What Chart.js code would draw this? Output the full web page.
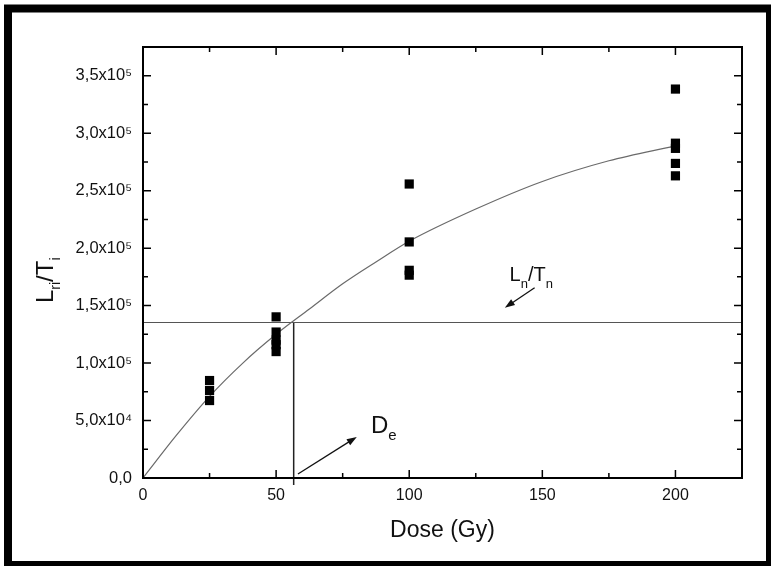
<!DOCTYPE html>
<html>
<head>
<meta charset="utf-8">
<script src="https://cdn.jsdelivr.net/npm/chart.js@4.4.1/dist/chart.umd.min.js"></script>
<style>
    html, body { margin: 0; padding: 0; background: #fff; }
</style>
</head>
<body>
<canvas id="myChart" width="771" height="566"></canvas>
<script>
// DATA

// measured Lri/Ti per regenerative dose (Gy)
var dose25 = [84800, 76100, 67400];
var dose50 = [140200, 127000, 120000, 116000, 110000];
var dose100 = [255800, 205400, 180700, 176500];
var dose200 = [338400, 291300, 286800, 273700, 262900];

// growth curve
var fitDoses = [0, 12.5, 25, 37.5, 50, 62.5, 75, 87.5, 100, 125, 150, 175, 200];
var fitValues = [0, 37000, 71000, 100000, 125000, 147000, 169000, 188000, 206000, 234000, 258000, 276000, 289000];

var naturalSignal = 135300; // Ln/Tn
var equivalentDose = 56.6;  // De

var xTickValues = [0, 50, 100, 150, 200];
var yTickValues = [0, 50000, 100000, 150000, 200000, 250000, 300000, 350000];
var yTickLabels = ['0,0', '5,0x10\u2074', '1,0x10\u2075', '1,5x10\u2075', '2,0x10\u2075', '2,5x10\u2075', '3,0x10\u2075', '3,5x10\u2075'];

function points(dose, values) {
    return values.map(function (v) { return { x: dose, y: v }; });
}

var measured = [].concat(points(25, dose25), points(50, dose50), points(100, dose100), points(200, dose200));
var fitCurve = fitDoses.map(function (d, i) { return { x: d, y: fitValues[i] }; });

var FONT = '"Liberation Sans", Arial, Helvetica, sans-serif';

// draws text pieces with subscripts, left aligned on baseline
function drawRich(ctx, x, y, parts) {
    ctx.textAlign = 'left';
    ctx.textBaseline = 'alphabetic';
    parts.forEach(function (p) {
        ctx.font = p.size + 'px ' + FONT;
        ctx.fillText(p.t, x, y + (p.dy || 0));
        x += ctx.measureText(p.t).width;
    });
}

function arrow(ctx, x1, y1, x2, y2) {
    var a = Math.atan2(y2 - y1, x2 - x1);
    ctx.beginPath();
    ctx.moveTo(x1, y1);
    ctx.lineTo(x2 - 6 * Math.cos(a), y2 - 6 * Math.sin(a));
    ctx.stroke();
    ctx.beginPath();
    ctx.moveTo(x2, y2);
    ctx.lineTo(x2 - 10 * Math.cos(a) + 3.5 * Math.sin(a), y2 - 10 * Math.sin(a) - 3.5 * Math.cos(a));
    ctx.lineTo(x2 - 10 * Math.cos(a) - 3.5 * Math.sin(a), y2 - 10 * Math.sin(a) + 3.5 * Math.cos(a));
    ctx.closePath();
    ctx.fill();
}

var decorations = {
    id: 'decorations',
    beforeDraw: function (chart) {
        var ctx = chart.ctx;
        ctx.save();
        ctx.fillStyle = '#fff';
        ctx.fillRect(0, 0, chart.width, chart.height);
        ctx.restore();
    },
    afterDraw: function (chart) {
        var ctx = chart.ctx;
        var area = chart.chartArea;
        var xs = chart.scales.x;
        var ys = chart.scales.y;
        ctx.save();

        // plot box
        ctx.strokeStyle = '#000';
        ctx.lineWidth = 2;
        ctx.strokeRect(area.left, area.top, area.right - area.left, area.bottom - area.top);

        // inward ticks on all four sides
        ctx.lineWidth = 1.5;
        ctx.beginPath();
        for (var d = 25; d < 225; d += 25) {
            var px = xs.getPixelForValue(d);
            var len = d % 50 === 0 ? 8 : 5;
            ctx.moveTo(px, area.bottom); ctx.lineTo(px, area.bottom - len);
            ctx.moveTo(px, area.top); ctx.lineTo(px, area.top + len);
        }
        for (var v = 25000; v < 375000; v += 25000) {
            var py = ys.getPixelForValue(v);
            var l2 = v % 50000 === 0 ? 8 : 5;
            ctx.moveTo(area.left, py); ctx.lineTo(area.left + l2, py);
            ctx.moveTo(area.right, py); ctx.lineTo(area.right - l2, py);
        }
        ctx.stroke();

        ctx.fillStyle = '#111';
        ctx.strokeStyle = '#111';
        ctx.lineWidth = 1.3;

        // Ln/Tn label and arrow
        drawRich(ctx, xs.getPixelForValue(137.7), ys.getPixelForValue(171600), [
            { t: 'L', size: 20 }, { t: 'n', size: 13, dy: 7 }, { t: '/T', size: 20 }, { t: 'n', size: 13, dy: 7 }
        ]);
        arrow(ctx, xs.getPixelForValue(147.1), ys.getPixelForValue(165500), xs.getPixelForValue(135.9), ys.getPixelForValue(148100));

        // De label and arrow
        drawRich(ctx, xs.getPixelForValue(85.6), ys.getPixelForValue(39200), [
            { t: 'D', size: 24 }, { t: 'e', size: 15, dy: 7 }
        ]);
        arrow(ctx, xs.getPixelForValue(58.2), ys.getPixelForValue(3500), xs.getPixelForValue(80.3), ys.getPixelForValue(35700));

        // y axis title
        ctx.save();
        ctx.translate(53, 303);
        ctx.rotate(-Math.PI / 2);
        drawRich(ctx, 0, 0, [
            { t: 'L', size: 24 }, { t: 'ri', size: 14, dy: 7 }, { t: '/T', size: 24 }, { t: 'i', size: 14, dy: 7 }
        ]);
        ctx.restore();

        // outer frame
        ctx.strokeStyle = '#000';
        ctx.lineWidth = 8;
        ctx.strokeRect(8, 8.5, 762, 556.5);
        ctx.restore();
    }
};

var canvas = document.getElementById('myChart');
var ctx = canvas.getContext('2d');

var chart = new Chart(ctx, {
    type: 'scatter',
    data: {
        datasets: [{
            label: 'Lri/Ti',
            data: measured,
            pointStyle: 'rect',
            pointRadius: 6.5,
            backgroundColor: '#000',
            borderColor: '#000',
            borderWidth: 0,
            order: 1
        },
        {
            label: 'fit',
            data: fitCurve,
            showLine: true,
            cubicInterpolationMode: 'monotone',
            borderColor: '#6a6a6a',
            borderWidth: 1.2,
            pointRadius: 0,
            order: 2
        },
        {
            label: 'Ln/Tn',
            data: [{ x: 0, y: naturalSignal }, { x: 225, y: naturalSignal }],
            showLine: true,
            borderColor: '#555',
            borderWidth: 1.2,
            pointRadius: 0,
            order: 3
        },
        {
            label: 'De',
            data: [{ x: equivalentDose, y: naturalSignal }, { x: equivalentDose, y: -6000 }],
            showLine: true,
            borderColor: '#222',
            borderWidth: 1.5,
            pointRadius: 0,
            clip: false,
            order: 3
        }]
    },
    options: {
        responsive: false,
        animation: false,
        layout: { padding: { top: 47, right: 29, left: 0, bottom: 0 } },
        plugins: {
            legend: { display: false },
            tooltip: { enabled: false }
        },
        scales: {
            x: {
                type: 'linear',
                position: 'bottom',
                min: 0,
                max: 225,
                afterBuildTicks: function (s) { s.ticks = xTickValues.map(function (v) { return { value: v }; }); },
                afterFit: function (s) { s.height = 88; },
                grid: { display: false, drawTicks: false },
                border: { display: false },
                ticks: {
                    autoSkip: false,
                    maxRotation: 0,
                    padding: 8,
                    color: '#111',
                    font: { family: FONT, size: 16 }
                },
                title: {
                    display: true,
                    text: 'Dose (Gy)',
                    color: '#111',
                    font: { family: FONT, size: 23 },
                    padding: { top: 0, bottom: 22 }
                }
            },
            y: {
                type: 'linear',
                position: 'left',
                min: 0,
                max: 375000,
                afterBuildTicks: function (s) { s.ticks = yTickValues.map(function (v) { return { value: v }; }); },
                afterFit: function (s) { s.width = 143; },
                grid: { display: false, drawTicks: false },
                border: { display: false },
                ticks: {
                    autoSkip: false,
                    padding: 11,
                    color: '#111',
                    font: { family: FONT, size: 16.5 },
                    callback: function (value) { return yTickLabels[yTickValues.indexOf(value)]; }
                }
            }
        }
    },
    plugins: [decorations]
});
</script>
</body>
</html>
